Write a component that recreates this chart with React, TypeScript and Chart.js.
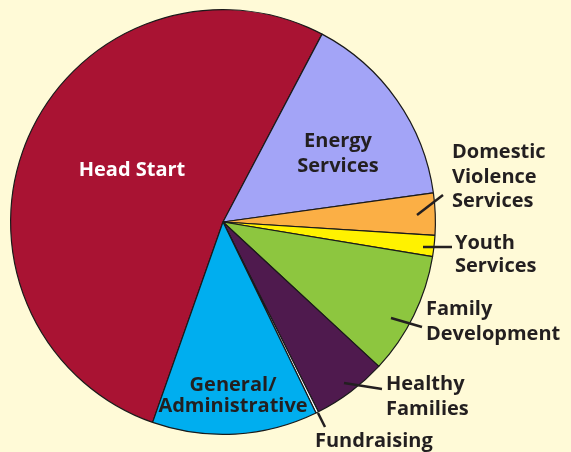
import React, { useEffect, useRef } from "react";
import { Chart, registerables } from "chart.js";

Chart.register(...registerables);

const categories = [
  "Head Start",
  "Energy Services",
  "Domestic Violence Services",
  "Youth Services",
  "Family Development",
  "Healthy Families",
  "Fundraising",
  "General/Administrative",
];
const shares = [52.4, 15.1, 3.2, 1.6, 9.3, 5.7, 0.2, 12.6];
const sliceColors = [
  "#A91333",
  "#A3A4F7",
  "#FBAF45",
  "#FFF200",
  "#8DC63F",
  "#4F1A4E",
  "#FFFFFF",
  "#00AEEF",
];
const labelLines = [
  ["Head Start"],
  ["Energy", "Services"],
  ["Domestic", "Violence", "Services"],
  ["Youth", "Services"],
  ["Family", "Development"],
  ["Healthy", "Families"],
  ["Fundraising"],
  ["General/", "Administrative"],
];

const BG = "#FFFAD7";
const INK = "#231F20";
const FONT = "bold 20px 'Open Sans', sans-serif";

// layout of labels relative to pie centre: x, first baseline y, line gap, align, colour, leader line
const labelLayout = [
  { x: -91, y: -46, gap: 25, align: "center", color: "#FFFFFF", leader: null },
  { x: 115, y: -75, gap: 25, align: "center", color: INK, leader: null },
  { x: 229, y: -64, gap: 24.5, align: "left", color: INK, leader: [194, -7, 220, -27] },
  { x: 232, y: 27, gap: 23, align: "left", color: INK, leader: [200, 25, 229, 25] },
  { x: 203, y: 93, gap: 25, align: "left", color: INK, leader: [168, 96, 199, 105] },
  { x: 163, y: 168, gap: 25, align: "left", color: INK, leader: [121, 161, 159, 167] },
  { x: 92, y: 225, gap: 25, align: "left", color: INK, leader: [95, 191, 102, 205] },
  { x: 10, y: 169, gap: 21, align: "center", color: INK, leader: null },
];

const labelPlugin = {
  id: "sliceLabels",
  afterDraw(chart: any) {
    const ctx = chart.ctx;
    const arc = chart.getDatasetMeta(0).data[0];
    if (!arc) return;
    const cx = arc.x;
    const cy = arc.y;
    ctx.save();
    ctx.font = FONT;
    ctx.textBaseline = "alphabetic";
    labelLayout.forEach((l, i) => {
      if (l.leader) {
        const [x1, y1, x2, y2] = l.leader;
        ctx.beginPath();
        ctx.strokeStyle = INK;
        ctx.lineWidth = 2.5;
        ctx.moveTo(cx + x1, cy + y1);
        ctx.lineTo(cx + x2, cy + y2);
        ctx.stroke();
      }
      ctx.fillStyle = l.color;
      ctx.textAlign = l.align as CanvasTextAlign;
      labelLines[i].forEach((line, j) => {
        ctx.fillText(line, cx + l.x, cy + l.y + j * l.gap);
      });
    });
    ctx.restore();
  },
};

export default function App() {
  const ref = useRef<HTMLCanvasElement>(null);
  useEffect(() => {
    if (!ref.current) return;
    const chart = new Chart(ref.current, {
      type: "pie",
      data: {
        labels: categories,
        datasets: [
          {
            data: shares,
            backgroundColor: sliceColors,
            borderColor: "#1a1a1a",
            borderWidth: 1.2,
          },
        ],
      },
      options: {
        responsive: false,
        animation: false,
        rotation: 199.35,
        layout: { padding: { left: 10, right: 135, top: 9, bottom: 17 } },
        plugins: {
          legend: { display: false },
          tooltip: { enabled: false },
        },
      },
      plugins: [labelPlugin],
    });
    return () => chart.destroy();
  }, []);
  return (
    <div
      style={{
        position: "fixed",
        left: 0,
        top: 0,
        width: 571,
        height: 452,
        background: BG,
      }}
    >
      <canvas ref={ref} width={571} height={452} style={{ display: "block" }} />
    </div>
  );
}
